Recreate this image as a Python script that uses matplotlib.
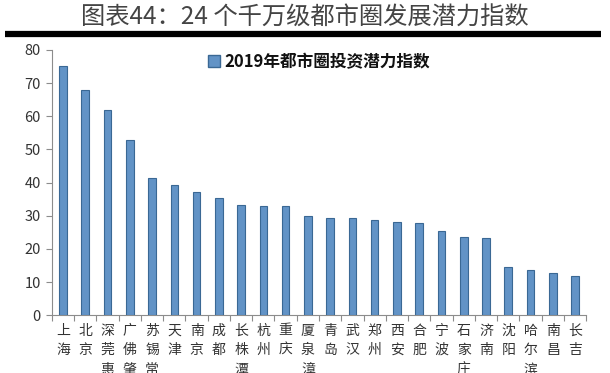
import numpy as np
import matplotlib
matplotlib.use('Agg')
import matplotlib.pyplot as plt
from matplotlib.lines import Line2D
import matplotlib.patches as mpatches

plt.rcParams['font.family'] = ['Noto Sans CJK SC', 'DejaVu Sans']

# === Data ===
cities = ['上海', '北京', '深莞惠', '广佛肇', '苏锡常', '天津', '南京', '成都',
          '长株潭', '杭州', '重庆', '厦泉漳', '青岛', '武汉', '郑州', '西安',
          '合肥', '宁波', '石家庄', '济南', '沈阳', '哈尔滨', '南昌', '长吉']
index_2019 = [75.1, 67.9, 61.8, 52.9, 41.4, 39.3, 37.2, 35.3,
              33.1, 32.8, 32.8, 29.8, 29.4, 29.2, 28.6, 28.0,
              27.8, 25.4, 23.6, 23.3, 14.5, 13.6, 12.7, 11.8]
series_name = '2019年都市圈投资潜力指数'
title = '图表44：24 个千万级都市圈发展潜力指数'
yticks = [0, 10, 20, 30, 40, 50, 60, 70, 80]

BAR_BLUE = '#6293C6'
BAR_EDGE = '#3A6894'
TEXT = '#333333'
AXIS_GREY = '#8C8C8C'

fig = plt.figure(figsize=(6.1, 3.73), dpi=100, facecolor='white')
ax = fig.add_axes([0.085, 0.155, 0.876, 0.711])

x = np.arange(len(cities))
ax.bar(x, index_2019, width=0.34, color=BAR_BLUE, edgecolor=BAR_EDGE,
       linewidth=0.8, zorder=3)

ax.set_xlim(-0.5, len(cities) - 0.5)
ax.set_ylim(0, 80)
ax.set_yticks(yticks)
ax.set_yticklabels([str(v) for v in yticks], fontsize=10.5, color=TEXT)

# category labels, stacked vertically
ax.set_xticks(x)
ax.set_xticklabels(['\n'.join(c) for c in cities], fontsize=10, color=TEXT,
                   linespacing=1.5, va='top')
ax.tick_params(axis='x', which='major', length=0, pad=6)
ax.set_xticks(np.arange(-0.5, len(cities), 1), minor=True)
ax.tick_params(axis='x', which='minor', length=4, color=AXIS_GREY, width=0.8)
ax.tick_params(axis='y', length=4, color=AXIS_GREY, width=0.8, pad=4)

for s in ['top', 'right']:
    ax.spines[s].set_visible(False)
for s in ['left', 'bottom']:
    ax.spines[s].set_color(AXIS_GREY)
    ax.spines[s].set_linewidth(0.8)

# legend
handle = mpatches.Patch(facecolor=BAR_BLUE, edgecolor=BAR_EDGE, label=series_name)
leg = ax.legend(handles=[handle], loc='upper center', bbox_to_anchor=(0.5, 1.045),
                frameon=False, handlelength=0.7, handleheight=0.7, handletextpad=0.3,
                prop={'size': 12, 'weight': 'bold'})
for t in leg.get_texts():
    t.set_color('#111111')

# title and thick rule
fig.text(0.5, 0.953, title, ha='center', va='center', fontsize=17.5, color='#444444')
fig.add_artist(Line2D([0.008, 0.985], [0.908, 0.908], transform=fig.transFigure,
                      color='black', linewidth=4.5, solid_capstyle='butt'))

plt.savefig('out.png', dpi=100, facecolor='white')
plt.close()
